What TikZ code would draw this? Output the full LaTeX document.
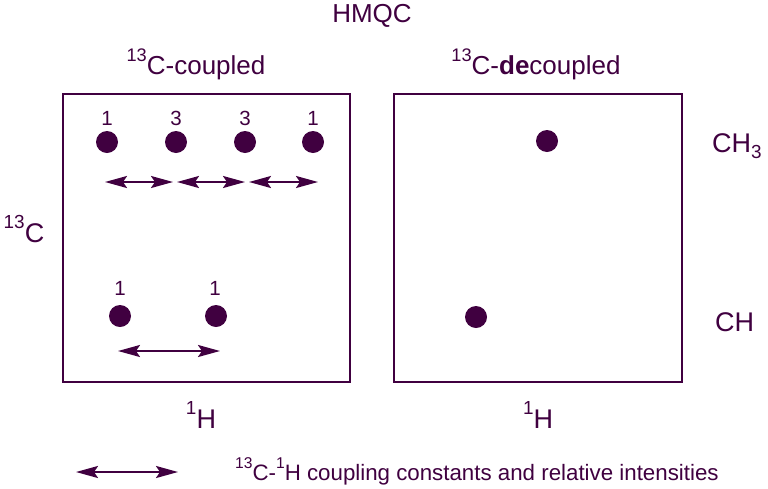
\documentclass[tikz,border=0pt]{standalone}
\usepackage{fontspec}
\setmainfont{Liberation Sans}
\usetikzlibrary{arrows.meta}
\definecolor{plum}{RGB}{64,0,64}
\newcommand\supx[1]{\raisebox{0.5em}{\scalebox{0.7}{#1}}}
\tikzset{
  lbl/.style={text=plum, inner sep=0pt, anchor=base, font=\fontsize{26}{28}\selectfont},
  num/.style={text=plum, inner sep=0pt, anchor=base, font=\fontsize{20.5}{22}\selectfont},
  legtext/.style={text=plum, inner sep=0pt, anchor=base west, font=\fontsize{22.3}{24}\selectfont},
  panel/.style={draw=plum, line width=2pt},
  peak/.style={circle, fill=plum, minimum size=22pt, inner sep=0pt},
  coup/.style={draw=plum, line width=2.2pt, {Stealth[length=22pt,width=12pt,inset=4pt]}-{Stealth[length=22pt,width=12pt,inset=4pt]}},
}
\begin{document}
\begin{tikzpicture}[x=1pt,y=-1pt]
\useasboundingbox (0,0) rectangle (768,488);
\fill[white] (0,0) rectangle (768,488);
% panels
\draw[panel] (63,94) rectangle (350,382);
\draw[panel] (394,94) rectangle (682,382);
% titles
\node[lbl] (title) at (372,22) {HMQC};
\node[lbl] (coupled) at (196,74) {\supx{13}C-coupled};
\node[lbl] (decoupled) at (536,74) {\supx{13}C-\textbf{de}coupled};
\node[lbl, font=\fontsize{27}{29}\selectfont] (cax) at (24,242) {\supx{13}C};
\node[lbl, font=\fontsize{27}{29}\selectfont] (hax1) at (201,428) {\supx{1}H};
\node[lbl, font=\fontsize{27}{29}\selectfont] (hax2) at (538,428) {\supx{1}H};
\node[lbl, font=\fontsize{27}{29}\selectfont, anchor=base west] (ch3) at (712,152) {CH\raisebox{-0.25em}{\scalebox{0.7}{3}}};
\node[lbl, font=\fontsize{27}{29}\selectfont, anchor=base west] (ch) at (715,331) {CH};
% top row peaks
\node[peak] (p1) at (107,142) {};
\node[peak] (p2) at (176,142) {};
\node[peak] (p3) at (245,142) {};
\node[peak] (p4) at (313,142) {};
\node[num] (n1) at (107,125) {1};
\node[num] (n2) at (176,125) {3};
\node[num] (n3) at (245,125) {3};
\node[num] (n4) at (313,125) {1};
\coordinate (a1) at (105,182);
\coordinate (a2) at (173,182);
\coordinate (a3) at (177,182);
\coordinate (a4) at (245,182);
\coordinate (a5) at (249,182);
\coordinate (a6) at (318,182);
\draw[coup] (a1) -- (a2);
\draw[coup] (a3) -- (a4);
\draw[coup] (a5) -- (a6);
% bottom row peaks
\node[peak] (q1) at (120,316) {};
\node[peak] (q2) at (216,316) {};
\node[num] (m1) at (120,295) {1};
\node[num] (m2) at (215,295) {1};
\coordinate (b1) at (118,351);
\coordinate (b2) at (220,351);
\draw[coup] (b1) -- (b2);
% decoupled peaks
\node[peak] (r1) at (547,141) {};
\node[peak] (r2) at (476,317) {};
% legend
\coordinate (l1) at (76,472);
\coordinate (l2) at (178,472);
\draw[coup] (l1) -- (l2);
\node[legtext] (leg) at (235,480) {\supx{13}C-\supx{1}H coupling constants and relative intensities};
\end{tikzpicture}
\end{document}
